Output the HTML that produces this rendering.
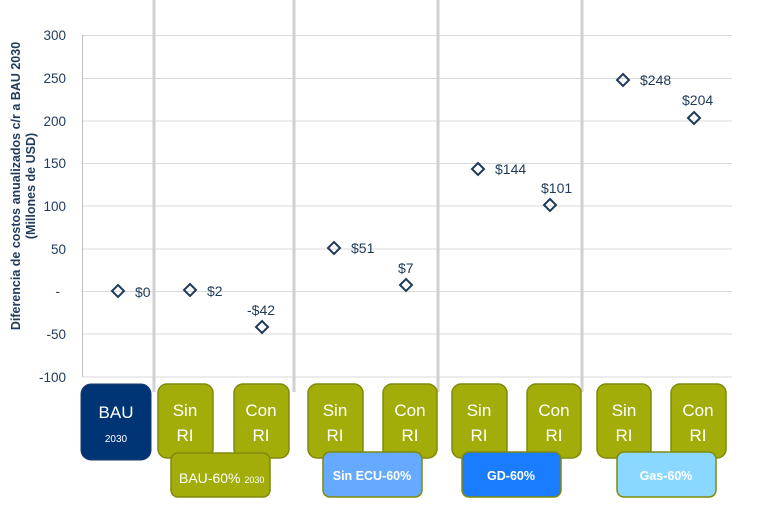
<!DOCTYPE html>
<html><head><meta charset="utf-8"><style>
body{margin:0;background:#fff;width:768px;height:516px;overflow:hidden;font-family:"Liberation Sans",sans-serif}
svg{display:block}
</style></head><body>
<svg width="768" height="516" viewBox="0 0 768 516" font-family="Liberation Sans, sans-serif">
<g stroke="#d9d9d9" stroke-width="1">
<line x1="82" y1="35.5" x2="732" y2="35.5"/><line x1="82" y1="78.5" x2="732" y2="78.5"/><line x1="82" y1="121" x2="732" y2="121"/><line x1="82" y1="163.5" x2="732" y2="163.5"/><line x1="82" y1="206" x2="732" y2="206"/><line x1="82" y1="249" x2="732" y2="249"/><line x1="82" y1="291.5" x2="732" y2="291.5"/><line x1="82" y1="334" x2="732" y2="334"/><line x1="82" y1="377" x2="732" y2="377"/>
</g>
<line x1="82.5" y1="35" x2="82.5" y2="377" stroke="#bfbfbf"/>
<g stroke="#d0d0d0" stroke-width="3">
<line x1="154" y1="0" x2="154" y2="392"/><line x1="294" y1="0" x2="294" y2="392"/><line x1="438" y1="0" x2="438" y2="392"/><line x1="582" y1="0" x2="582" y2="392"/>
</g>
<g font-size="13.5" fill="#1f3a5a" text-anchor="end">
<text x="66" y="40">300</text><text x="66" y="83">250</text><text x="66" y="126">200</text><text x="66" y="168">150</text><text x="66" y="211">100</text><text x="66" y="254">50</text><text x="60" y="296">-</text><text x="66" y="339">-50</text><text x="66" y="382">-100</text>
</g>
<g transform="translate(20,186) rotate(-90)" font-size="12.5" font-weight="bold" fill="#1f3a5a" text-anchor="middle">
<text x="0" y="0">Diferencia de costos  anualizados c/r a BAU 2030</text>
<text x="0" y="15">(Millones de USD)</text>
</g>
<g fill="none" stroke="#1f3a5a" stroke-width="2">
<path d="M118 285l6 6-6 6-6-6z"/><path d="M190 284l6 6-6 6-6-6z"/><path d="M262 321l6 6-6 6-6-6z"/><path d="M334 242l6 6-6 6-6-6z"/><path d="M406 279l6 6-6 6-6-6z"/><path d="M478 163l6 6-6 6-6-6z"/><path d="M550 199l6 6-6 6-6-6z"/><path d="M623 74l6 6-6 6-6-6z"/><path d="M694 112l6 6-6 6-6-6z"/>
</g>
<g font-size="14" fill="#1f3a5a">
<text x="135" y="297">$0</text><text x="207" y="296">$2</text><text x="247" y="315">-$42</text><text x="351" y="253">$51</text><text x="398" y="273">$7</text><text x="495" y="174">$144</text><text x="541" y="193">$101</text><text x="640" y="85">$248</text><text x="682" y="105">$204</text>
</g>
<rect x="81" y="384" width="70" height="76" rx="10" fill="#003575" stroke="#1a3a6a"/>
<text x="116" y="418" font-size="17" fill="#fff" text-anchor="middle">BAU</text>
<text x="116" y="442" font-size="10" fill="#fff" text-anchor="middle">2030</text>
<g fill="#a2ad0a" stroke="#7f8a0a" stroke-width="1.5">
<rect x="158" y="384" width="55" height="74" rx="9"/><rect x="234" y="384" width="55" height="74" rx="9"/>
<rect x="308" y="384" width="55" height="74" rx="9"/><rect x="383" y="384" width="54" height="74" rx="9"/>
<rect x="452" y="384" width="55" height="74" rx="9"/><rect x="527" y="384" width="54" height="74" rx="9"/>
<rect x="597" y="384" width="54" height="74" rx="9"/><rect x="671" y="384" width="55" height="74" rx="9"/>
</g>
<g font-size="17" fill="#fff" text-anchor="middle">
<text x="185" y="416">Sin</text><text x="185" y="441">RI</text><text x="261" y="416">Con</text><text x="261" y="441">RI</text>
<text x="335" y="416">Sin</text><text x="335" y="441">RI</text><text x="410" y="416">Con</text><text x="410" y="441">RI</text>
<text x="479" y="416">Sin</text><text x="479" y="441">RI</text><text x="554" y="416">Con</text><text x="554" y="441">RI</text>
<text x="624" y="416">Sin</text><text x="624" y="441">RI</text><text x="698" y="416">Con</text><text x="698" y="441">RI</text>
</g>
<g stroke="#7f8a0a" stroke-width="1.5">
<rect x="171" y="453" width="99" height="44" rx="7" fill="#a2ad0a"/>
<rect x="323" y="452" width="99" height="45" rx="7" fill="#66aaff"/>
<rect x="462" y="452" width="99" height="45" rx="7" fill="#1a7cff"/>
<rect x="617" y="452" width="99" height="45" rx="7" fill="#8ad8ff"/>
</g>
<text x="179" y="483" font-size="14" fill="#fff">BAU-60% <tspan font-size="9">2030</tspan></text>
<g font-size="12.5" font-weight="bold" fill="#fff" text-anchor="middle">
<text x="372" y="480">Sin ECU-60%</text><text x="511" y="480">GD-60%</text><text x="666" y="480">Gas-60%</text>
</g>
</svg>
</body></html>
